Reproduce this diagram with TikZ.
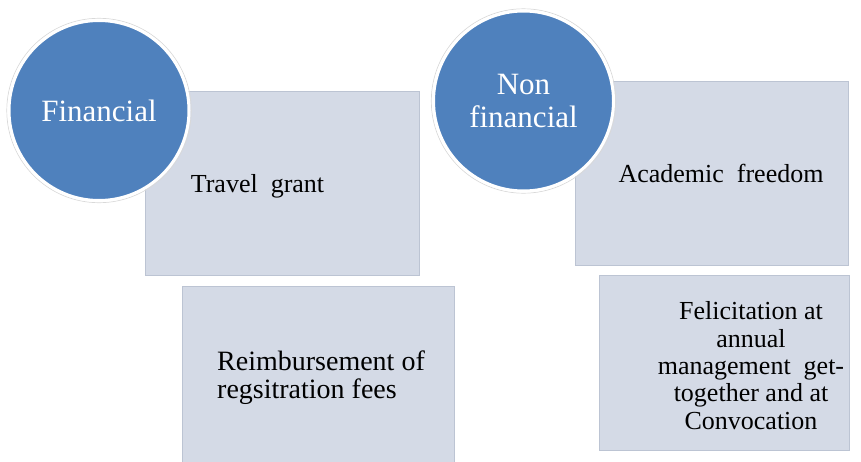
\documentclass[tikz,border=0pt]{standalone}
\usepackage{fontspec}
\setmainfont{Liberation Serif}
\definecolor{circblue}{HTML}{4F81BD}
\definecolor{boxfill}{HTML}{D4DAE6}
\definecolor{boxline}{HTML}{BCC4D3}
\definecolor{ringshade}{HTML}{D9D9D9}
\begin{document}
\begin{tikzpicture}[x=1pt,y=-1pt,
  box/.style={draw=boxline, line width=0.8pt, fill=boxfill, rectangle, inner sep=0pt, anchor=north west},
  disc/.style={circle, fill=circblue, draw=white, line width=3pt, minimum size=180pt, inner sep=0pt,
    text=white, font=\fontsize{31}{33}\selectfont, align=center},
  halo/.style={draw=ringshade, line width=0.7pt},
  boxtext/.style={inner sep=0pt, font=\fontsize{26}{27.3}\selectfont, text=black}]
\useasboundingbox (0,0) rectangle (861,461);
\clip (0,0) rectangle (861,461);
% boxes
\node[box, minimum width=274pt, minimum height=184pt] (b1) at (145,91) {};
\node[box, minimum width=272pt, minimum height=184pt] (b2) at (182,286) {};
\node[box, minimum width=273pt, minimum height=184pt] (b3) at (575,81) {};
\node[box, minimum width=250pt, minimum height=175pt] (b4) at (599,275) {};
% box texts
\node[boxtext, anchor=base] (t1) at (257.5,192) {Travel\ \ grant};
\node[boxtext, anchor=west, align=left, font=\fontsize{28}{28}\selectfont] (t2) at (217,377.5) {Reimbursement of\\regsitration fees};
\node[boxtext, anchor=base] (t3) at (721,182) {Academic\ \ freedom};
\node[boxtext, align=center] (t4) at (751,365.6) {Felicitation at\\annual\\management\ \ get-\\together and at\\Convocation};
% circles
\draw[halo] (99,110.5) circle (92.2pt);
\node[disc] (c1) at (99,110.5) {Financial};
\draw[halo] (523.5,101) circle (92.2pt);
\node[disc] (c2) at (523.5,101) {Non\\financial};
\end{tikzpicture}
\end{document}
